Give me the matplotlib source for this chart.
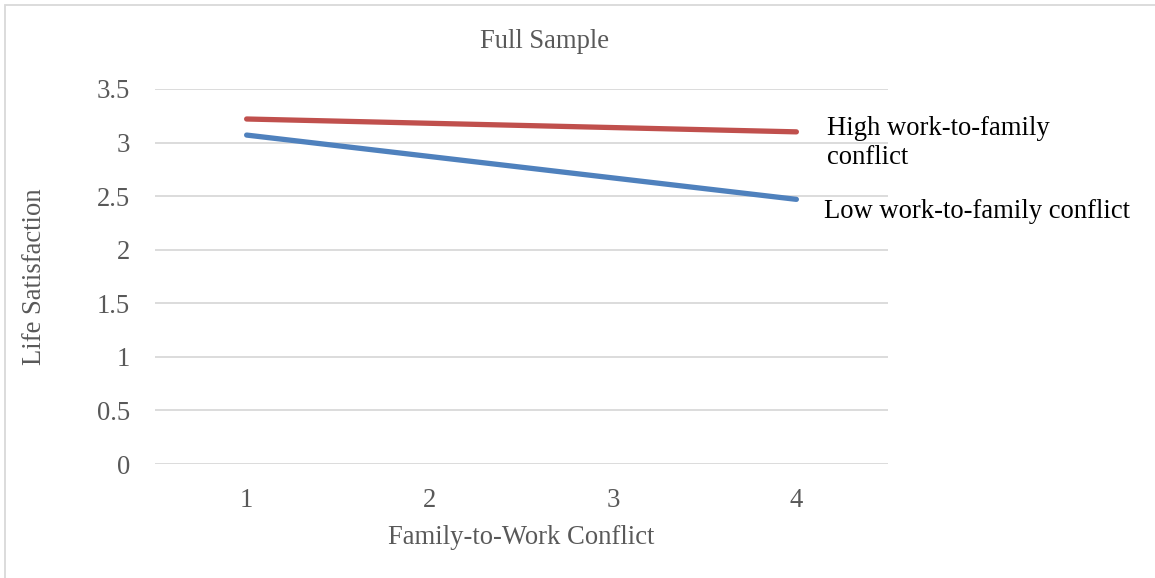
import matplotlib
matplotlib.use("Agg")
import matplotlib.pyplot as plt
from matplotlib.patches import Rectangle

categories = ["1", "2", "3", "4"]
high_wfc = [3.22, 3.18, 3.14, 3.10]
low_wfc = [3.07, 2.87, 2.67, 2.47]
y_ticks = [0, 0.5, 1, 1.5, 2, 2.5, 3, 3.5]
y_tick_labels = ["0", "0.5", "1", "1.5", "2", "2.5", "3", "3.5"]

W, H, DPI = 1155, 578, 100
plt.rcParams["font.family"] = ["Liberation Serif", "DejaVu Serif"]
GRAY = "#595959"
FS = 19.2

fig = plt.figure(figsize=(W / DPI, H / DPI), dpi=DPI)
L, R, B, T = 155, 888, 464, 89
ax = fig.add_axes([L / W, (H - B) / H, (R - L) / W, (B - T) / H])

x = list(range(1, len(categories) + 1))
ax.plot(x, high_wfc, color="#C0504D", lw=3.8, solid_capstyle="round")
ax.plot(x, low_wfc, color="#4F81BD", lw=3.8, solid_capstyle="round")

ax.set_xlim(0.5, len(categories) + 0.5)
ax.set_ylim(0, 3.5)
ax.set_xticks(x)
ax.set_xticklabels(categories)
ax.set_yticks(y_ticks)
ax.set_yticklabels(y_tick_labels)
ax.tick_params(axis="both", length=0, labelsize=FS, colors=GRAY)
ax.tick_params(axis="y", pad=18)
ax.tick_params(axis="x", pad=17)
ax.grid(axis="y", color="#D9D9D9", lw=1.3)
ax.set_axisbelow(True)
for s in ax.spines.values():
    s.set_visible(False)

ax.set_xlabel("Family-to-Work Conflict", fontsize=FS, color=GRAY)
ax.xaxis.label.set_va("center")
ax.xaxis.set_label_coords(0.5, -0.195)
ax.set_ylabel("Life Satisfaction", fontsize=FS, color=GRAY)
ax.yaxis.label.set_va("center")
ax.yaxis.set_label_coords(-0.165, 0.5)

fig.text(545 / W, 1 - 41 / H, "Full Sample", fontsize=FS, color=GRAY,
         ha="center", va="center")

ax.annotate("High work-to-family\nconflict", xy=(x[-1], high_wfc[-1]),
            xytext=(31, -32), textcoords="offset pixels", ha="left",
            va="baseline", fontsize=FS, color="black", linespacing=1.2,
            annotation_clip=False)
ax.annotate("Low work-to-family conflict", xy=(x[-1], low_wfc[-1]),
            xytext=(28, -19), textcoords="offset pixels", ha="left",
            va="baseline", fontsize=FS, color="black", annotation_clip=False)

# chart frame: only the left and top edges fall inside the canvas
fig.patches.append(Rectangle((5 / W, -0.1), 1.2, (H - 5) / H + 0.1,
                             transform=fig.transFigure, fill=False,
                             edgecolor="#D9D9D9", lw=1.3))

fig.savefig("out.png", dpi=DPI)
